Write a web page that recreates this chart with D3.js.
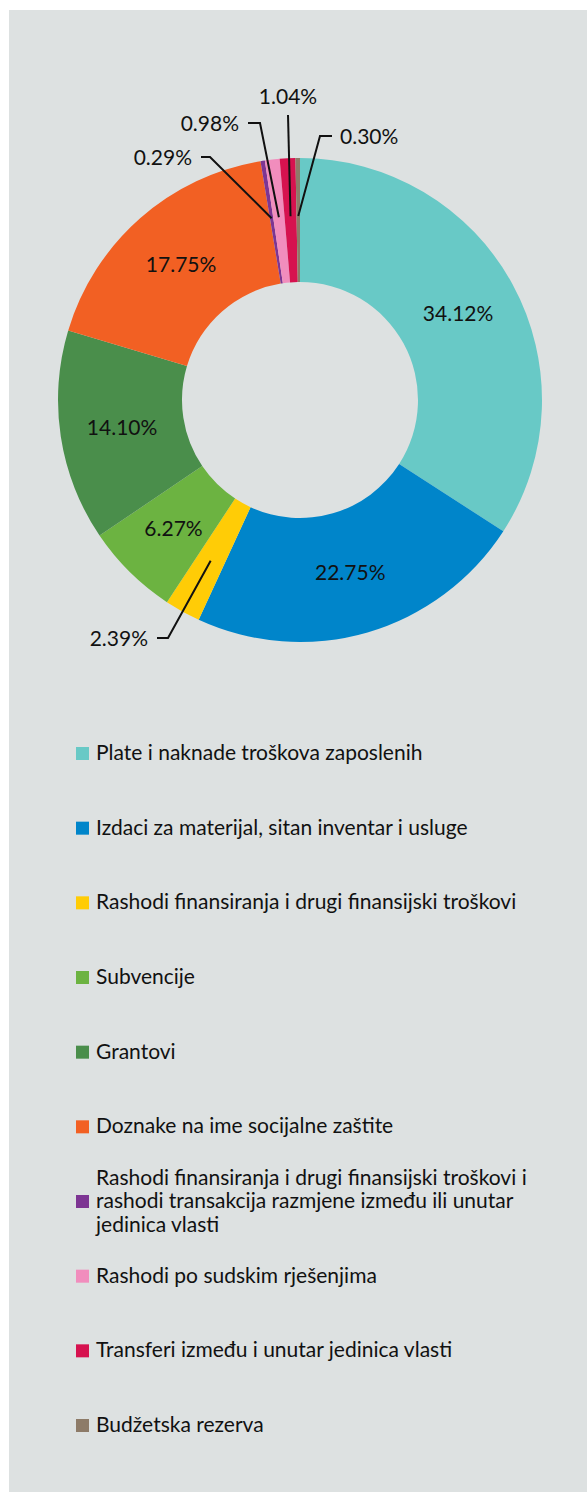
<!DOCTYPE html>
<html>
<head>
<meta charset="utf-8">
<script src="https://cdn.jsdelivr.net/npm/d3@7"></script>
<style>
  html, body { margin: 0; padding: 0; background: #ffffff; }
  svg { display: block; }
  text { font-family: Lato, "Open Sans", sans-serif; fill: #111; }
</style>
</head>
<body>
<div id="chart"></div>
<script>
// Budget expenditure structure (share of total, %)
const categories = [
  "Plate i naknade troškova zaposlenih",
  "Izdaci za materijal, sitan inventar i usluge",
  "Rashodi finansiranja i drugi finansijski troškovi",
  "Subvencije",
  "Grantovi",
  "Doznake na ime socijalne zaštite",
  "Rashodi finansiranja i drugi finansijski troškovi i rashodi transakcija razmjene između ili unutar jedinica vlasti",
  "Rashodi po sudskim rješenjima",
  "Transferi između i unutar jedinica vlasti",
  "Budžetska rezerva"
];
const shares = [34.12, 22.75, 2.39, 6.27, 14.10, 17.75, 0.29, 0.98, 1.04, 0.30];
const valueLabels = ["34.12%", "22.75%", "2.39%", "6.27%", "14.10%", "17.75%", "0.29%", "0.98%", "1.04%", "0.30%"];
// legend text split into rows
const legendLines = [
  ["Plate i naknade troškova zaposlenih"],
  ["Izdaci za materijal, sitan inventar i usluge"],
  ["Rashodi finansiranja i drugi finansijski troškovi"],
  ["Subvencije"],
  ["Grantovi"],
  ["Doznake na ime socijalne zaštite"],
  ["Rashodi finansiranja i drugi finansijski troškovi i", "rashodi transakcija razmjene između ili unutar", "jedinica vlasti"],
  ["Rashodi po sudskim rješenjima"],
  ["Transferi između i unutar jedinica vlasti"],
  ["Budžetska rezerva"]
];
const palette = ["#68c9c6", "#0085ca", "#ffcc06", "#6cb341", "#4a8e4b", "#f26023", "#7d3593", "#f18dbd", "#d6124f", "#8d7b68"];

const W = 587, H = 1492;
const cx = 300, cy = 400, rOuter = 242, rInner = 118;

const svg = d3.select("#chart").append("svg")
  .attr("width", W).attr("height", H);

// panel background
svg.append("rect").attr("x", 9).attr("y", 10)
  .attr("width", W - 9).attr("height", H - 10)
  .attr("fill", "#dde1e1");

const color = d3.scaleOrdinal().domain(d3.range(categories.length)).range(palette);

const pie = d3.pie().sort(null).value(d => d);
const arcs = pie(shares);
const arc = d3.arc().innerRadius(rInner).outerRadius(rOuter);
const labelArc = d3.arc().innerRadius((rInner + rOuter) / 2).outerRadius((rInner + rOuter) / 2);
const leaderArc = d3.arc().innerRadius(184).outerRadius(184);

const g = svg.append("g").attr("transform", `translate(${cx},${cy})`);

g.selectAll("path.slice").data(arcs).enter().append("path")
  .attr("class", "slice")
  .attr("d", arc)
  .attr("fill", (d, i) => color(i));

// labels inside the ring for the larger slices
const insideIdx = [0, 1, 3, 4, 5];
g.selectAll("text.inside").data(arcs.filter((d, i) => insideIdx.includes(i))).enter()
  .append("text").attr("class", "inside")
  .attr("transform", d => `translate(${labelArc.centroid(d)})`)
  .attr("text-anchor", "middle")
  .attr("dy", "0.36em")
  .style("font-size", "21px")
  .text(d => valueLabels[d.index]);

// callouts for the thin slices: elbow point, end of tick, text anchor (relative to centre)
const callouts = {
  2: { elbow: [-132, 238], end: [-143, 238], anchor: "end" },
  6: { elbow: [-90, -243], end: [-99, -243], anchor: "end" },
  7: { elbow: [-40, -277], end: [-52, -277], anchor: "end" },
  8: { elbow: [-12, -285], end: [-12, -285], anchor: "middle" },
  9: { elbow: [20, -264], end: [32, -264], anchor: "start" }
};

Object.keys(callouts).forEach(k => {
  const i = +k, c = callouts[k];
  const a = arcs[i];
  const p0 = leaderArc.centroid(a);
  g.append("polyline")
    .attr("points", [p0, c.elbow, c.end].map(p => p.join(",")).join(" "))
    .attr("fill", "none").attr("stroke", "#111").attr("stroke-width", 2);
  const t = g.append("text").style("font-size", "21px").attr("text-anchor", c.anchor)
    .text(valueLabels[i]);
  if (c.anchor === "middle") {
    t.attr("x", c.end[0]).attr("y", c.end[1] - 11);
  } else {
    t.attr("x", c.end[0] + (c.anchor === "end" ? -9 : 8)).attr("y", c.end[1]).attr("dy", "0.36em");
  }
});

// legend
const legendY = d3.scaleLinear().domain([0, categories.length - 1]).range([760, 1432]);
const lineH = 23.5;
const lg = svg.append("g");
categories.forEach((name, i) => {
  const lines = legendLines[i];
  const base = legendY(i);
  const firstBase = base - (lines.length - 1) / 2 * lineH;
  lg.append("rect")
    .attr("x", 76).attr("y", base - 13)
    .attr("width", 13).attr("height", 13)
    .attr("fill", color(i));
  const t = lg.append("text").attr("x", 96).attr("y", firstBase).style("font-size", "21px");
  lines.forEach((ln, j) => {
    t.append("tspan").attr("x", 96).attr("y", firstBase + j * lineH).text(ln);
  });
});
</script>
</body>
</html>
